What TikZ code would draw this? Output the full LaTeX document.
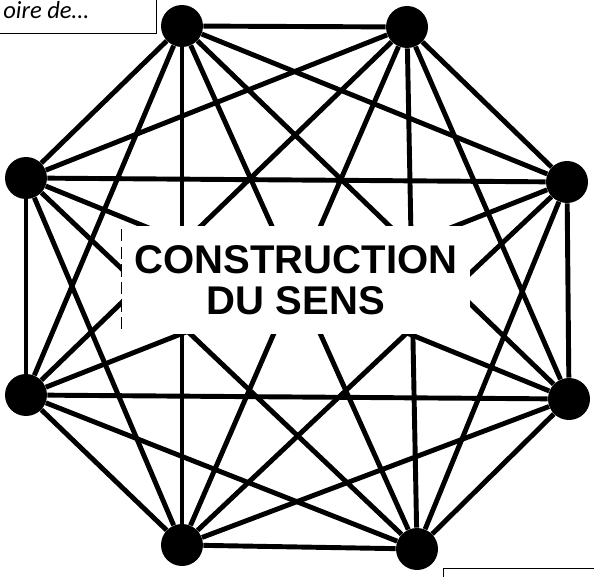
\documentclass[tikz,border=0pt]{standalone}
\usepackage{fontspec}
\setmainfont{Liberation Sans}
\newfontfamily\notefont{Carlito}
\usetikzlibrary{positioning}

\begin{document}
\begin{tikzpicture}[x=0.02cm,y=-0.02cm,
  dot/.style={circle,fill=black,inner sep=0pt,minimum size=0.84cm},
  link/.style={line width=2.8pt},
  blank/.style={draw,fill=white,line width=0.8pt,inner sep=0pt}]
  \useasboundingbox (0,0) rectangle (594,577);
  \clip (0,0) rectangle (594,577);

  % the eight points of the octagon
  \node[dot] (p1) at (182,26) {};
  \node[dot] (p2) at (407,27) {};
  \node[dot] (p3) at (567,182) {};
  \node[dot] (p4) at (569,399) {};
  \node[dot] (p5) at (417,549) {};
  \node[dot] (p6) at (182,545) {};
  \node[dot] (p7) at (26,395) {};
  \node[dot] (p8) at (26,178) {};

  % every point linked to every other one
  \foreach \i [evaluate=\i as \k using int(\i+1)] in {1,...,7}
    \foreach \j in {\k,...,8}
      \draw[link] (p\i) -- (p\j);

  % the label hides the middle
  \node[fill=white,minimum width=6.96cm,minimum height=2.16cm,
        align=center,font=\bfseries\fontsize{22.8}{23.5}\selectfont]
    (sens) at (296,280) {CONSTRUCTION\\DU SENS};
  \draw[line width=0.7pt,dash pattern=on 7pt off 3pt]
    ([yshift=-2pt]sens.north west) -- ([yshift=3pt]sens.south west);

  % boxes cut by the page edge
  \node[blank,anchor=south east,minimum width=3.6cm,minimum height=0.9cm]
    (note) at (157,34) {};
  \node[anchor=base west,inner sep=0pt,font=\notefont\itshape\fontsize{14}{16}\selectfont]
    (notetext) at (3,19) {oire de…};
  \node[blank,anchor=north west,minimum width=3.6cm,minimum height=0.9cm]
    (corner) at (443,568) {};
\end{tikzpicture}
\end{document}
